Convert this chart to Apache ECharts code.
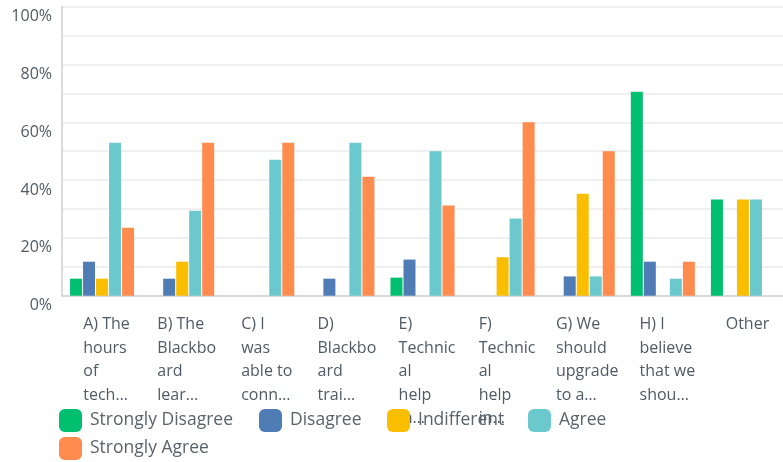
<!DOCTYPE html>
<html>
<head>
<meta charset="utf-8">
<script src="https://cdn.jsdelivr.net/npm/echarts@6/dist/echarts.min.js"></script>
<style>
html,body{margin:0;padding:0;background:#fff;}
#c{width:783px;height:462px;}
</style>
</head>
<body>
<div id="c"></div>
<script>
const categories = [
  "A) The\nhours\nof\ntech…",
  "B) The\nBlackbo\nard\nlear…",
  "C) I\nwas\nable to\nconn…",
  "D)\nBlackbo\nard\ntrai…",
  "E)\nTechnic\nal\nhelp\nin…",
  "F)\nTechnic\nal\nhelp\nin…",
  "G) We\nshould\nupgrade\nto a…",
  "H) I\nbelieve\nthat we\nshou…",
  "Other"
];
const seriesNames = ["Strongly Disagree", "Disagree", "Indifferent", "Agree", "Strongly Agree"];
const stronglyDisagree = [5.88, 0, 0, 0, 6.25, 0, 0, 70.59, 33.33];
const disagree         = [11.76, 5.88, 0, 5.88, 12.5, 0, 6.67, 11.76, 0];
const indifferent      = [5.88, 11.76, 0, 0, 0, 13.33, 35.29, 0, 33.33];
const agree            = [52.94, 29.41, 47.06, 52.94, 50, 26.67, 6.67, 5.88, 33.33];
const stronglyAgree    = [23.53, 52.94, 52.94, 41.18, 31.25, 60, 50, 11.76, 0];
const yTicks = [0, 20, 40, 60, 80, 100];

const colors = ["#00BF6F", "#507CB6", "#F9BE00", "#6BC8CD", "#FF8B4F"];
const values = [stronglyDisagree, disagree, indifferent, agree, stronglyAgree];
const textColor = "#505a64";
const font = "Open Sans";

const legendPos = [[59, 409], [259, 409], [387, 409], [528, 409], [59, 437]];

const chart = echarts.init(document.getElementById('c'), null, {renderer: 'canvas'});
chart.setOption({
  animation: false,
  color: colors,
  grid: {left: 62, right: 0, top: 6.7, bottom: 166.3, containLabel: false},
  legend: seriesNames.map((n, i) => ({
    data: [n],
    left: legendPos[i][0],
    top: legendPos[i][1],
    padding: 0,
    itemWidth: 23,
    itemHeight: 23,
    icon: 'roundRect',
    selectedMode: false,
    textStyle: {fontFamily: font, fontSize: 17.5, color: "#5a636b", padding: [0, 0, 0, 3]}
  })),
  xAxis: {
    type: 'category',
    data: categories,
    axisTick: {show: false},
    axisLine: {show: true, lineStyle: {color: '#cfcfcf', width: 1.5}},
    axisLabel: {
      interval: 0,
      margin: 17,
      align: 'center',
      padding: [0, 0, 0, 9],
      formatter: v => '{a|' + v + '}',
      rich: {a: {align: 'left', fontFamily: font, fontSize: 16, lineHeight: 23.5, color: textColor}}
    }
  },
  yAxis: {
    type: 'value',
    min: 0, max: 100, interval: 10,
    axisLine: {show: true, lineStyle: {color: '#cfcfcf', width: 1.5}},
    axisTick: {show: false},
    splitLine: {show: true, lineStyle: {color: '#ebebeb', width: 1.5}},
    axisLabel: {
      margin: 10,
      fontFamily: font, fontSize: 16, color: textColor,
      verticalAlign: 'top', lineHeight: 20,
      formatter: v => (yTicks.indexOf(v) >= 0 ? v + '%' : '')
    }
  },
  series: seriesNames.map((n, i) => ({
    name: n,
    type: 'bar',
    data: values[i],
    barWidth: 12,
    barGap: '8.4%',
    itemStyle: {color: colors[i]}
  }))
});
</script>
</body>
</html>
